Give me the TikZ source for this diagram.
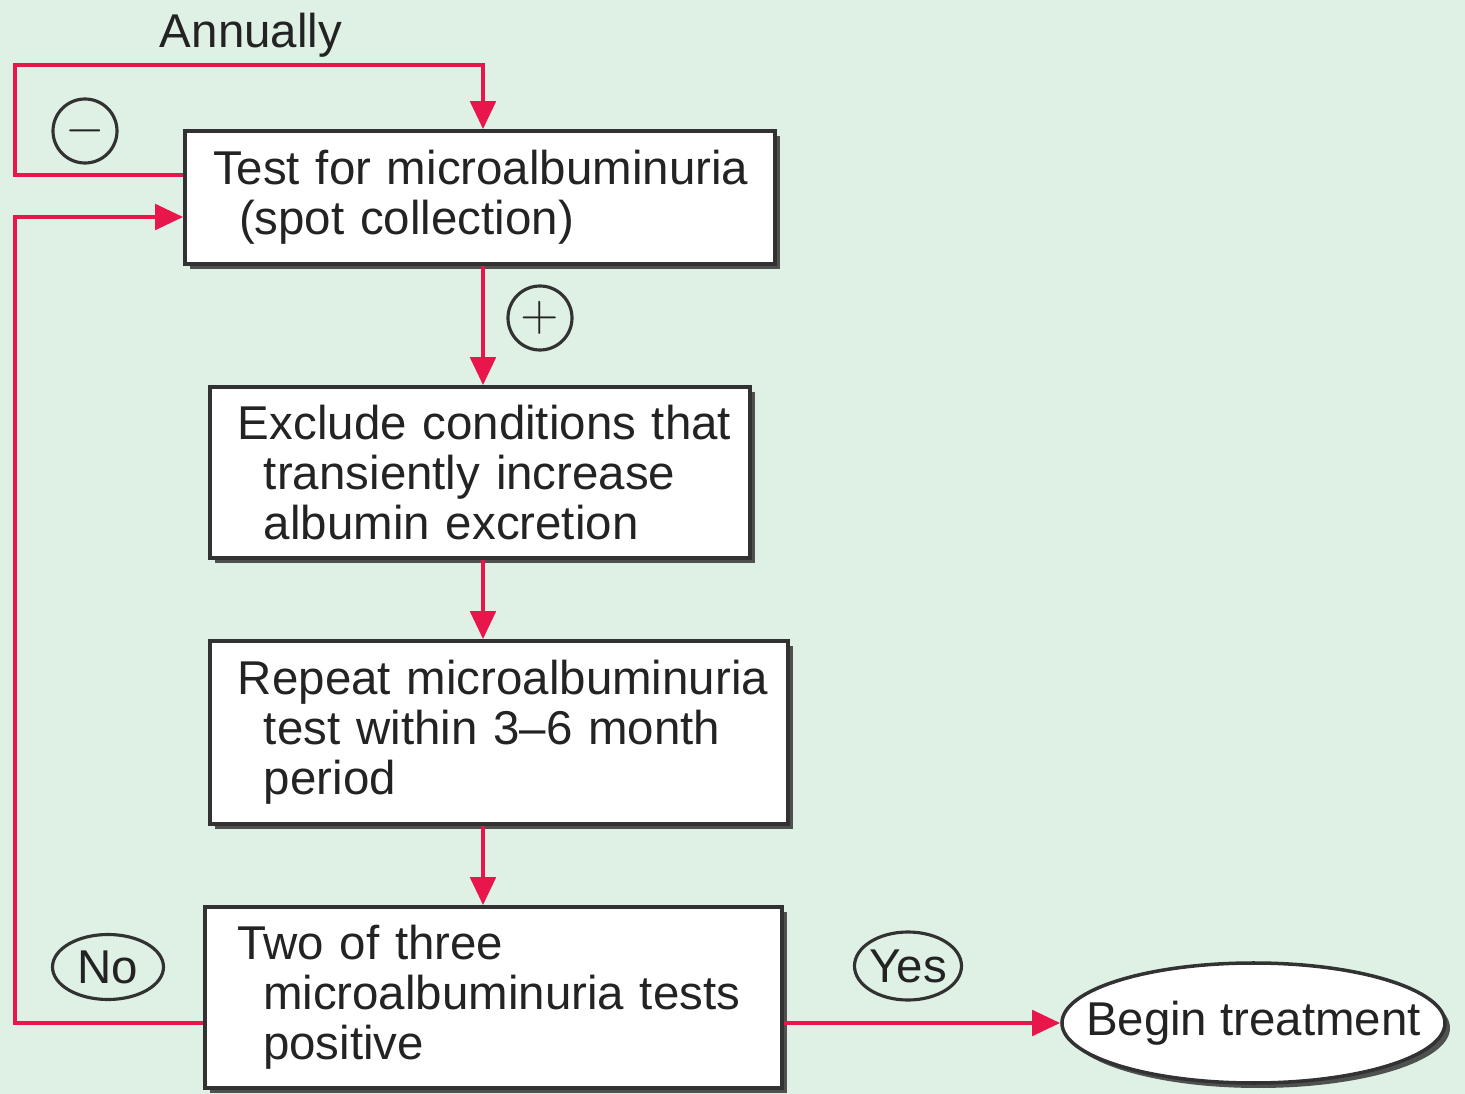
\documentclass[tikz,border=0pt]{standalone}
\usepackage{fontspec}
\setmainfont{Liberation Sans}
\usetikzlibrary{arrows.meta}
\usetikzlibrary{shapes.geometric}
\usetikzlibrary{shadows}

\definecolor{flowred}{RGB}{232, 22, 74}
\definecolor{bgmint}{RGB}{223, 240, 229}
\definecolor{edgegray}{RGB}{50, 50, 50}
\definecolor{inkgray}{RGB}{35, 35, 35}
\newcommand{\lead}{\hspace*{.28cm}}
\newcommand{\ind}{\hspace*{.54cm}}

\begin{document}
\begin{tikzpicture}[
  font = \fontsize{13.5}{14.2}\selectfont,
  text = inkgray,
  flow/.style = {draw = flowred, line width = 1.4pt,
    -{Triangle[length = .28cm, width = .25cm]}},
  stepbox/.style = {draw = edgegray, line width = 1pt, fill = white,
    inner sep = 0, align = left,
    drop shadow = {shadow xshift = .05cm, shadow yshift = -.05cm,
      fill = black!75, opacity = .9}},
  tag/.style = {draw = edgegray, line width = .9pt, ellipse, inner sep = 0},
  sign/.style = {draw = edgegray, line width = .9pt, circle,
    minimum size = .64cm, inner sep = 0}
  ]
  \useasboundingbox[fill = bgmint] (0, 0) rectangle (14.65, -10.94);

  \node[stepbox, text width = 5.9cm, minimum height = 1.33cm] (test)
  at (4.8, -1.975) {\lead Test for microalbuminuria\\\ind(spot collection)};
  \node[stepbox, text width = 5.4cm, minimum height = 1.71cm] (excl)
  at (4.8, -4.725) {\lead Exclude conditions that\\\ind transiently increase\\
    \ind albumin excretion};
  \node[stepbox, text width = 5.78cm, minimum height = 1.83cm] (rep)
  at (4.99, -7.325) {\lead Repeat microalbuminuria\\\ind test within 3--6 month\\
    \ind period};
  \node[stepbox, text width = 5.77cm, minimum height = 1.81cm] (two)
  at (4.935, -9.975) {\hspace*{.32cm}Two of three\\\hspace*{.58cm}microalbuminuria tests\\
    \hspace*{.58cm}positive};
  \node[stepbox, ellipse, minimum width = 3.83cm, minimum height = 1.2cm] (treat)
  at (12.535, -10.23) {\makebox[0pt]{Begin treatment}};

  \node[tag, minimum width = 1.07cm, minimum height = .68cm] (yes)
  at (9.08, -9.66) {\makebox[0pt]{Yes}};
  \node[tag, minimum width = 1.11cm, minimum height = .65cm] (no)
  at (1.08, -9.67) {\makebox[0pt]{No}};
  \node[sign] (minus) at (0.85, -1.31) {$-$};
  \node[sign] (plus) at (5.4, -3.18) {$+$};
  \node (annual) at (2.51, -0.35) {Annually};

  \coordinate (spine) at (4.83, 0);
  \coordinate (top) at (0.15, -0.65);
  \coordinate (rail) at (0.15, -2.17);

  \draw[flow] ([yshift = .225cm]test.west) -| (top) -| (test.north -| spine);
  \draw[flow] (test.south -| spine) -- (excl.north -| spine);
  \draw[flow] (excl.south -| spine) -- (rep.north -| spine);
  \draw[flow] (rep.south -| spine) -- (two.north -| spine);
  \draw[flow] (two.west |- treat.west) -| (rail) -- (test.west |- rail);
  \draw[flow] (two.east |- treat.west) -- (treat.west);
\end{tikzpicture}
\end{document}
